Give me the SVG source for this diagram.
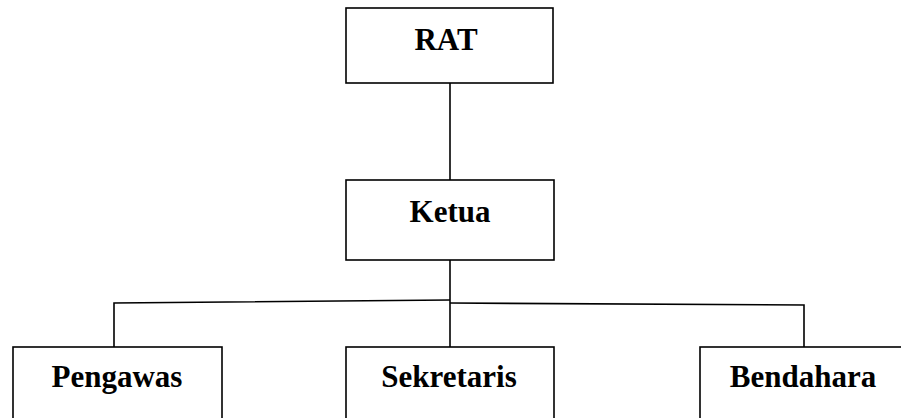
<svg xmlns="http://www.w3.org/2000/svg" width="901" height="418" viewBox="0 0 901 418">
<style>
.box{fill:#fff;stroke:#000;stroke-width:1.6}
.ln{fill:none;stroke:#000;stroke-width:1.6}
.t{font-family:"Liberation Serif","Times New Roman",serif;font-weight:bold;font-size:31px;text-anchor:middle;fill:#000}
</style>
<rect width="901" height="418" fill="#fff"/>
<g id="connectors">
<line class="ln" x1="450" y1="83" x2="450" y2="180"/>
<line class="ln" x1="450" y1="260" x2="450" y2="347"/>
<polyline class="ln" points="114,347 114,303 450,300"/>
<polyline class="ln" points="450,303 804,305 804,347"/>
</g>
<g id="rat">
<rect class="box" x="346" y="8" width="207" height="75"/>
<text class="t" x="446" y="50">RAT</text>
</g>
<g id="ketua">
<rect class="box" x="346" y="180" width="208" height="80"/>
<text class="t" x="450" y="222">Ketua</text>
</g>
<g id="pengawas">
<rect class="box" x="13" y="347" width="209" height="90"/>
<text class="t" x="117" y="387">Pengawas</text>
</g>
<g id="sekretaris">
<rect class="box" x="346" y="347" width="208" height="90"/>
<text class="t" x="449" y="387">Sekretaris</text>
</g>
<g id="bendahara">
<rect class="box" x="700" y="347" width="220" height="90"/>
<text class="t" x="803" y="387">Bendahara</text>
</g>
</svg>
